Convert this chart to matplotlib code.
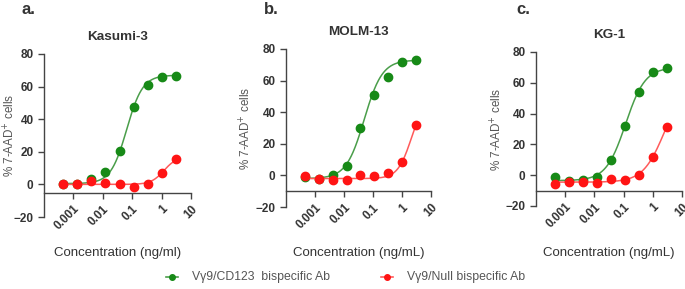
import numpy as np
import matplotlib.pyplot as plt
from matplotlib.lines import Line2D

# 3-fold dilution series (ng/ml)
conc = [0.000457, 0.00137, 0.00412, 0.0123, 0.037, 0.111, 0.333, 1.0, 3.0]

titles = ['Kasumi-3', 'MOLM-13', 'KG-1']
letters = ['a.', 'b.', 'c.']
xlabels = ['Concentration (ng/ml)', 'Concentration (ng/mL)', 'Concentration (ng/mL)']
legend_labels = ['V\u03b39/CD123  bispecific Ab', 'V\u03b39/Null bispecific Ab']

# % 7-AAD+ cells
cd123_a = [0.3, 0.5, 3.3, 7.5, 20.4, 47.7, 60.8, 65.6, 66.5]
null_a = [0.0, 0.0, 2.3, 0.6, 0.0, -1.5, 0.4, 6.7, 15.6]
cd123_b = [-1.0, -2.0, 0.0, 5.8, 30.3, 51.0, 62.5, 71.9, 73.3]
null_b = [-0.4, -2.1, -2.6, -3.0, 0.2, -0.2, 1.7, 8.5, 31.8]
cd123_c = [-1.3, -3.5, -3.0, -1.3, 9.7, 32.0, 54.3, 66.8, 69.8]
null_c = [-5.8, -4.5, -4.5, -5.0, -2.6, -2.8, 0.2, 11.9, 31.4]

# 4PL fit parameters: bottom, top, EC50, hill
fit_cd123 = [(0.5, 67.0, 0.065, 1.6), (-2.0, 73.0, 0.05, 1.4), (-3.5, 70.0, 0.117, 1.3)]
fit_null = [(0.0, 17.0, 1.2, 2.0), (-2.0, 50.0, 2.14, 1.82), (-4.5, 60.0, 2.47, 1.19)]

xaxis_cross = [-5, -10, -10]

green, green_line = '#178a17', '#4a9e4a'
red, red_line = '#ff1414', '#ff5a5a'
txt = '#333333'

plt.rcParams['font.family'] = ['Liberation Sans', 'DejaVu Sans']


def four_pl(x, p):
    bottom, top, ec50, hill = p
    return bottom + (top - bottom) / (1 + (ec50 / x) ** hill)


fig = plt.figure(figsize=(6.85, 2.89), dpi=100)
W, H = 685, 289
# left, right, top, bottom in pixels
boxes = [(44, 191, 54, 217), (286, 431, 49, 207), (536, 682, 52, 206)]
ylab_x = [18, 254, 505]
letter_x = [21, 264, 516]

green_sets = [cd123_a, cd123_b, cd123_c]
red_sets = [null_a, null_b, null_c]

xs = np.logspace(np.log10(conc[0]), np.log10(conc[-1]), 200)

for i in range(3):
    l, r, t, b = boxes[i]
    ax = fig.add_axes([l / W, (H - b) / H, (r - l) / W, (b - t) / H])
    ax.plot(xs, four_pl(xs, fit_cd123[i]), color=green_line, lw=1.1, zorder=2)
    ax.plot(conc, green_sets[i], 'o', color=green, ms=6, zorder=3)
    ax.plot(xs, four_pl(xs, fit_null[i]), color=red_line, lw=1.1, zorder=4)
    ax.plot(conc, red_sets[i], 'o', color=red, ms=6, zorder=5)

    ax.set_xscale('log')
    ax.set_xlim(1e-4, 10)
    ax.set_ylim(-20, 80)
    ax.set_xticks([0.001, 0.01, 0.1, 1, 10])
    ax.set_xticklabels(['0.001', '0.01', '0.1', '1', '10'])
    ax.minorticks_off()
    ax.set_yticks([-20, 0, 20, 40, 60, 80])
    ax.spines['top'].set_visible(False)
    ax.spines['right'].set_visible(False)
    ax.spines['bottom'].set_position(('data', xaxis_cross[i]))
    for s in ['left', 'bottom']:
        ax.spines[s].set_color('#444444')
        ax.spines[s].set_linewidth(1.0)
    ax.tick_params(colors='#444444', labelcolor=txt, labelsize=8.5, length=4, width=1.0)
    for lab in ax.get_yticklabels():
        lab.set_fontweight('bold')
    for lab in ax.get_xticklabels():
        lab.set_fontweight('bold')
        lab.set_rotation(45)
        lab.set_ha('right')
        lab.set_rotation_mode('anchor')

    ax.set_title(titles[i], fontsize=9.7, fontweight='bold', color=txt, pad=10)
    ax.set_ylabel('% 7-AAD$^{+}$ cells', fontsize=8.4, color='#555555')
    ax.yaxis.set_label_coords((ylab_x[i] - l) / (r - l), 0.5)
    ax.set_xlabel(xlabels[i], fontsize=9.5, color=txt)
    ax.xaxis.set_label_coords(0.5, (b - 247) / (b - t))

    fig.text(letter_x[i] / W, 1 - 14 / H, letters[i], fontsize=12,
             fontweight='bold', color=txt, va='baseline')

# legend drawn by hand: short line + dot, then label
leg_y = 1 - 277 / H
for x_mark, x_text, col, lcol, lab in [(172, 192, green, green_line, legend_labels[0]),
                                        (387, 407, red, red_line, legend_labels[1])]:
    fig.add_artist(Line2D([(x_mark - 6) / W, (x_mark + 6) / W], [leg_y, leg_y],
                          transform=fig.transFigure, color=lcol, lw=1.2))
    fig.add_artist(Line2D([x_mark / W], [leg_y], transform=fig.transFigure,
                          marker='o', ms=4, color=col))
    fig.text(x_text / W, leg_y, lab, fontsize=8.8, color='#555555', va='center')

fig.savefig('out.png', dpi=100)
